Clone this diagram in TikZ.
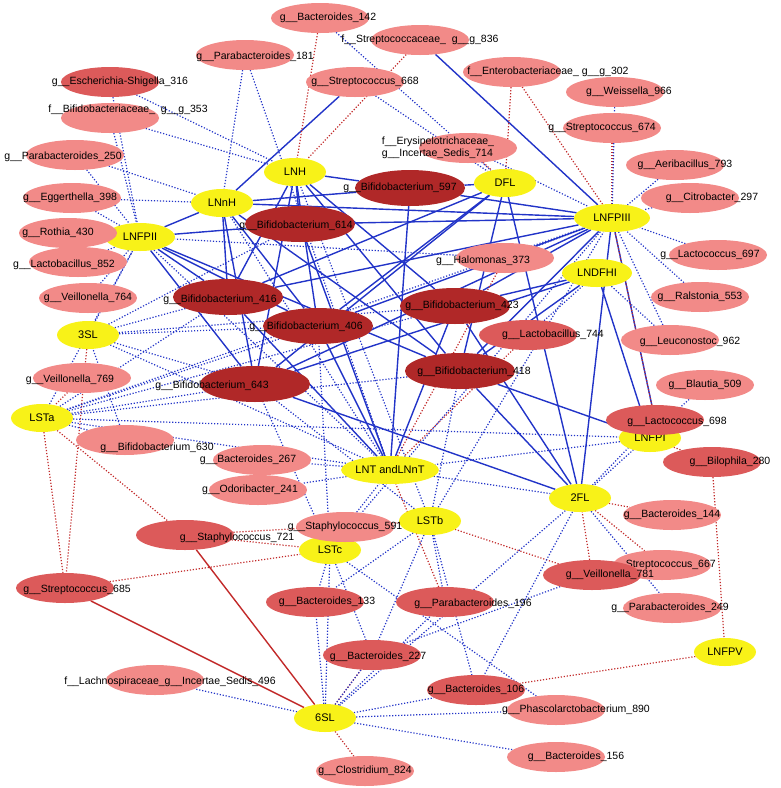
\documentclass[tikz,border=0pt]{standalone}
\usepackage{fontspec}
\setmainfont{Liberation Sans}
\usetikzlibrary{calc,backgrounds,shapes.geometric}
\definecolor{hmo}{HTML}{F8F218}
\definecolor{pinklt}{HTML}{F28A88}
\definecolor{pinkmd}{HTML}{DC5A5A}
\definecolor{pinkdk}{HTML}{B02828}
\definecolor{edgeblue}{HTML}{2234C8}
\definecolor{edgered}{HTML}{C22A2A}
\tikzset{
  hmo/.style={ellipse,fill=hmo,minimum width=62pt,minimum height=28pt,inner sep=0pt,font=\fontsize{11}{12}\selectfont},
  taxon/.style={ellipse,minimum width=98pt,minimum height=30pt,inner sep=0pt},
  bifido/.style={taxon,fill=pinkdk,minimum width=110pt,minimum height=36pt},
  taxlbl/.style={font=\fontsize{10.5}{11.5}\selectfont,align=left,inner sep=0pt},
  bsolid/.style={edgeblue,line width=1.4pt},
  bdot/.style={edgeblue,line width=1.2pt,dash pattern=on 1.2pt off 1.8pt},
  rsolid/.style={edgered,line width=1.4pt},
  rdot/.style={edgered,line width=1.2pt,dash pattern=on 1.2pt off 1.8pt}
}
% #1 name, #2 centre, #3 label offset, #4 fill, #5 text
\newcommand{\taxon}[5]{%
  \node[taxon,fill=#4] (#1) at (#2) {};
  \node[taxlbl] (#1l) at ($(#1)+#3$) {#5};}
\begin{document}
\begin{tikzpicture}[x=1pt,y=-1pt]
    \useasboundingbox (0,0) rectangle (780,788);
    % HMO nodes
    \node[hmo] (lnh) at (295,172) {LNH};
    \node[hmo] (lnnh) at (222,203) {LNnH};
    \node[hmo] (dfl) at (505,183) {DFL};
    \node[hmo,minimum width=76pt] (lnfpiii) at (612,218) {LNFPIII};
    \node[hmo,minimum width=70pt] (lnfpii) at (140,237) {LNFPII};
    \node[hmo,minimum width=70pt] (lndfhi) at (597,273) {LNDFHI};
    \node[hmo] (tsl) at (88,335) {3SL};
    \node[hmo] (lsta) at (42,418) {LSTa};
    \node[hmo,minimum width=86pt] (lnt) at (390,470) {LNT andLNnT};
    \node[hmo] (lnfpi) at (650,438) {LNFPI};
    \node[hmo] (tfl) at (580,498) {2FL};
    \node[hmo] (lstb) at (430,521) {LSTb};
    \node[hmo] (lstc) at (330,550) {LSTc};
    \node[hmo] (ssl) at (325,718) {6SL};
    \node[hmo] (lnfpv) at (725,652) {LNFPV};
    % Bifidobacterium nodes
    \node[bifido] (bif597) at (410,188) {};
    \node[taxlbl] (bif597l) at (400,188) {g\_\_Bifidobacterium\_597};
    \node[bifido] (bif614) at (300,224) {};
    \node[taxlbl] (bif614l) at (296,226) {g\_\_Bifidobacterium\_614};
    \node[bifido] (bif416) at (228,297) {};
    \node[taxlbl] (bif416l) at (220,300) {g\_\_Bifidobacterium\_416};
    \node[bifido] (bif406) at (318,326) {};
    \node[taxlbl] (bif406l) at (306,327) {g\_\_Bifidobacterium\_406};
    \node[bifido] (bif423) at (455,306) {};
    \node[taxlbl] (bif423l) at (462,306) {g\_\_Bifidobacterium\_423};
    \node[bifido] (bif643) at (255,384) {};
    \node[taxlbl] (bif643l) at (212,386) {g\_\_Bifidobacterium\_643};
    \node[bifido] (bif418) at (460,371) {};
    \node[taxlbl] (bif418l) at (474,372) {g\_\_Bifidobacterium\_418};
    % other taxa
    \taxon{bac142}{320,18}{(8,0)}{pinklt}{g\_\_Bacteroides\_142}
    \taxon{par181}{245,55}{(10,2)}{pinklt}{g\_\_Parabacteroides\_181}
    \taxon{esc316}{110,82}{(10,0)}{pinkmd}{g\_\_Escherichia-Shigella\_316}
    \taxon{stc836}{420,40}{(0,0)}{pinklt}{f\_\_Streptococcaceae\_\ \ g\_\_g\_836}
    \taxon{ent302}{512,72}{(36,0)}{pinklt}{f\_\_Enterobacteriaceae\_\ g\_\_g\_302}
    \taxon{str668}{355,82}{(10,0)}{pinklt}{g\_\_Streptococcus\_668}
    \taxon{wei966}{615,92}{(14,0)}{pinklt}{g\_\_Weissella\_966}
    \taxon{bif353}{110,118}{(18,-8)}{pinklt}{f\_\_Bifidobacteriaceae\_\ \ g\_\_g\_353}
    \taxon{ery714}{468,148}{(-30,0)}{pinklt}{f\_\_Erysipelotrichaceae\_\\g\_\_Incertae\_Sedis\_714}
    \taxon{str674}{612,128}{(-10,0)}{pinklt}{g\_\_Streptococcus\_674}
    \taxon{par250}{75,155}{(-12,2)}{pinklt}{g\_\_Parabacteroides\_250}
    \taxon{aer793}{675,165}{(10,0)}{pinklt}{g\_\_Aeribacillus\_793}
    \taxon{egg398}{72,198}{(-2,0)}{pinklt}{g\_\_Eggerthella\_398}
    \taxon{cit297}{690,198}{(22,0)}{pinklt}{g\_\_Citrobacter\_297}
    \taxon{rot430}{68,233}{(-10,0)}{pinklt}{g\_\_Rothia\_430}
    \taxon{lac697}{718,255}{(-8,0)}{pinklt}{g\_\_Lactococcus\_697}
    \taxon{lab852}{78,262}{(-14,3)}{pinklt}{g\_\_Lactobacillus\_852}
    \taxon{hal373}{505,258}{(-22,3)}{pinklt}{g\_\_Halomonas\_373}
    \taxon{ral553}{700,297}{(0,0)}{pinklt}{g\_\_Ralstonia\_553}
    \taxon{vei764}{88,298}{(0,0)}{pinklt}{g\_\_Veillonella\_764}
    \taxon{leu962}{670,340}{(20,2)}{pinklt}{g\_\_Leuconostoc\_962}
    \taxon{lab744}{528,335}{(25,0)}{pinkmd}{g\_\_Lactobacillus\_744}
    \taxon{vei769}{82,378}{(-12,2)}{pinklt}{g\_\_Veillonella\_769}
    \taxon{bla509}{705,385}{(0,0)}{pinklt}{g\_\_Blautia\_509}
    \taxon{lac698}{655,420}{(22,2)}{pinkmd}{g\_\_Lactococcus\_698}
    \taxon{bif630}{125,440}{(32,8)}{pinklt}{g\_\_Bifidobacterium\_630}
    \taxon{bac267}{262,460}{(-14,0)}{pinklt}{g\_\_Bacteroides\_267}
    \taxon{odo241}{258,490}{(-8,0)}{pinklt}{g\_\_Odoribacter\_241}
    \taxon{bil280}{712,462}{(18,0)}{pinkmd}{g\_\_Bilophila\_280}
    \taxon{sta591}{345,527}{(0,0)}{pinklt}{g\_\_Staphylococcus\_591}
    \taxon{sta721}{185,535}{(52,3)}{pinkmd}{g\_\_Staphylococcus\_721}
    \taxon{bac144}{672,515}{(0,0)}{pinklt}{g\_\_Bacteroides\_144}
    \taxon{str685}{65,588}{(12,2)}{pinkmd}{g\_\_Streptococcus\_685}
    \taxon{str667}{662,565}{(0,0)}{pinklt}{g\_\_Streptococcus\_667}
    \taxon{vei781}{592,575}{(18,0)}{pinkmd}{g\_\_Veillonella\_781}
    \taxon{bac133}{315,602}{(12,0)}{pinkmd}{g\_\_Bacteroides\_133}
    \taxon{par196}{445,602}{(28,2)}{pinkmd}{g\_\_Parabacteroides\_196}
    \taxon{par249}{672,608}{(-2,0)}{pinklt}{g\_\_Parabacteroides\_249}
    \taxon{bac227}{372,655}{(6,2)}{pinkmd}{g\_\_Bacteroides\_227}
    \taxon{lch496}{155,680}{(15,2)}{pinklt}{f\_\_Lachnospiraceae\_g\_\_Incertae\_Sedis\_496}
    \taxon{bac106}{476,690}{(0,0)}{pinkmd}{g\_\_Bacteroides\_106}
    \taxon{pha890}{556,710}{(20,0)}{pinklt}{g\_\_Phascolarctobacterium\_890}
    \taxon{bac156}{556,757}{(20,0)}{pinklt}{g\_\_Bacteroides\_156}
    \taxon{clo824}{365,771}{(0,0)}{pinklt}{g\_\_Clostridium\_824}
    \begin{scope}[on background layer]
    % positive links
    \foreach \a/\b in {lnh/bif597,lnh/bif614,lnh/bif416,lnh/bif406,lnh/bif423,lnh/bif643,lnh/bif418,
        lnnh/bif597,lnnh/bif406,lnnh/bif643,lnnh/bif418,lnnh/bif416,lnnh/str668,
        lnfpii/bif416,lnfpii/bif406,lnfpii/bif643,lnfpii/bif418,lnfpii/bif614,lnfpii/lnnh,
        dfl/bif597,dfl/bif406,dfl/bif643,dfl/bif418,dfl/tfl,dfl/bif416,
        lnfpiii/bif597,lnfpiii/bif614,lnfpiii/bif406,lnfpiii/bif416,lnfpiii/bif423,lnfpiii/bif643,lnfpiii/bif418,
        lnfpiii/tfl,lnfpiii/lac698,lnfpiii/stc836,lnfpiii/lnnh,
        lndfhi/bif423,lndfhi/bif418,lndfhi/bif643,lndfhi/lnfpi,
        lnt/bif614,lnt/bif597,lnt/bif416,lnt/bif423,lnt/bif406,
        tfl/bif418,tfl/bif643,tfl/bif423,lnfpi/bif418}
        \draw[bsolid] (\a) -- (\b);
    \foreach \a/\b in {str685/ssl,sta721/ssl}
        \draw[rsolid] (\a) -- (\b);
    % negative links
    \foreach \a/\b in {ent302/dfl,ent302/lnfpiii,bac142/lnh,stc836/lnh,lsta/str685,lsta/sta721,
        tsl/str685,sta721/lstc,sta721/lstb,str685/lstc,vei781/lstb,vei781/tfl,bil280/lnfpv,
        lnfpv/bac106,ssl/clo824,lab744/lnt,tfl/bac144,tfl/str667,lnfpi/bil280,str674/lnfpiii,
        vei769/lsta,bac227/ssl,ery714/dfl,hal373/lnt,lac698/lnfpiii,par196/lnt}
        \draw[rdot] (\a) -- (\b);
    \foreach \a/\b in {bac142/dfl,par181/lnnh,par181/lnt,esc316/lnfpii,esc316/lnh,bif353/lnfpii,bif353/lnh,
        par250/lnfpii,par250/lnnh,egg398/lnfpii,egg398/lnnh,rot430/lnfpii,lab852/lnfpii,vei764/lnfpii,
        str668/dfl,ery714/lnfpiii,wei966/lnfpiii,aer793/lnfpiii,cit297/lnfpiii,lac697/lnfpiii,
        ral553/lnfpiii,leu962/lnfpiii,leu962/lndfhi,bla509/tfl,lac698/tfl,lac698/lnfpi,hal373/lnfpii,
        hal373/lnfpiii,lab744/lndfhi,tsl/bif416,tsl/bif406,tsl/bif643,tsl/bif614,tsl/lnfpii,tsl/bif423,
        lsta/bif406,lsta/bif643,lsta/bif418,lsta/bif416,lsta/bif423,lsta/lnfpiii,lsta/lnfpi,lsta/lnfpii,
        lsta/bif630,lnt/bac267,lnt/odo241,lstc/bif643,lstc/bif406,lstb/bif643,lstb/bif418,lstb/lnfpiii,
        lstb/lnh,lstc/bac133,lstc/bac227,lstb/par196,lstb/bac227,lstb/bac133,lstb/bac106,sta591/lnt,
        ssl/lch496,ssl/bac133,ssl/bac227,ssl/bac106,ssl/pha890,ssl/bac156,ssl/par196,ssl/tfl,ssl/lstc,
        lstc/pha890,tfl/par249,tfl/bac106,vei781/bac227,lsta/tfl,tsl/lnt,lnfpii/lnt,lnnh/lnt,
        lstc/lnfpiii,bif630/tsl,lnfpi/lnt}
        \draw[bdot] (\a) -- (\b);
    \end{scope}
\end{tikzpicture}
\end{document}
